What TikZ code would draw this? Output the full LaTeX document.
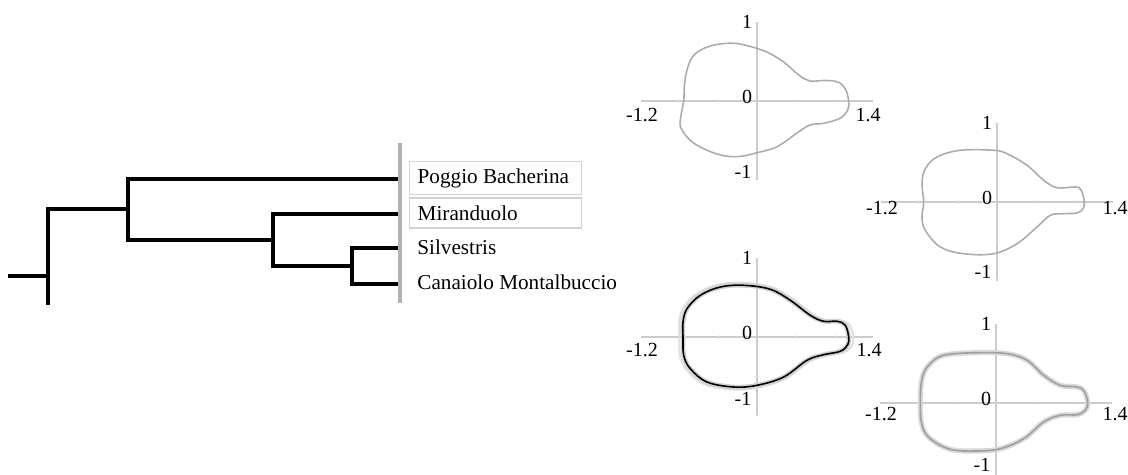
\documentclass[tikz,border=0pt]{standalone}
\usepackage{fontspec}
\setmainfont{Liberation Serif}
\newcommand{\branchWidth}[0]{2pt}
% axes, ticks and labels of one outline plot; #1 = drop of side labels, #2 = x of right label, #3 = y of -1
\newcommand{\seedAxes}[3]{%
  \draw[axis] (-116,0) -- (116,0);
  \draw[axis] (0,-79) -- (0,79);
  \foreach \t in {-78,-39,39,78} {
    \draw[tick] (\t,-2) -- (\t,2);
    \draw[tick] (-2,\t) -- (2,\t);
  }
  \node[num] (one) at (-10,-79) {1};
  \node[num] (zero) at (-10,-4) {0};
  \node[num] (minusone) at (-14,#3) {-1};
  \node[num] (left) at (-115,#1) {-1.2};
  \node[num] (right) at (#2,#1) {1.4};
}

\begin{document}
\begin{tikzpicture}[x=0.5pt, y=-0.5pt,
  branch/.style={line width=\branchWidth, line cap=rect},
  leafname/.style={anchor=west, inner xsep=4pt, minimum height=15pt,
    font=\fontsize{10.6}{12}\selectfont},
  boxed/.style={draw=gray!35, line width=0.7pt, text width=78pt, align=flush left},
  axis/.style={gray!40, line width=0.6pt},
  tick/.style={gray!25, line width=0.5pt},
  num/.style={font=\fontsize{10}{12}\selectfont, inner sep=0pt},
  seed/.style={gray!65, line width=0.8pt}]
  \useasboundingbox (0,0) rectangle (1128,475);

  % dendrogram
  \coordinate (r) at (10,276);
  \coordinate (n0) at (48,276);
  \coordinate (n1) at (128,209);
  \coordinate (n2) at (273,240);
  \coordinate (n3) at (352,266);
  \coordinate (bartop) at (400,143);
  \coordinate (barbot) at (400,303);
  \coordinate (pb) at (399,179);
  \coordinate (mi) at (399,214);
  \coordinate (si) at (399,248);
  \coordinate (ca) at (399,284);
  \draw[branch] (r) -- (n0);
  \draw[branch] (n0) |- (n1);
  \draw[branch] (n0) -- (n0 |- barbot);
  \draw[branch] (n1) |- (pb);
  \draw[branch] (n1) |- (n2);
  \draw[branch] (n2) |- (mi);
  \draw[branch] (n2) |- (n3);
  \draw[branch] (n3) |- (si);
  \draw[branch] (n3) |- (ca);
  \draw[gray!60, line width=2pt] (bartop) -- (barbot);

  \node[leafname, boxed] (lbPB) at (409,178) {Poggio Bacherina};
  \node[leafname, boxed] (lbMI) at (409,213) {Miranduolo};
  \node[leafname] (lbSI) at (409,247) {Silvestris};
  \node[leafname] (lbCA) at (409,282) {Canaiolo Montalbuccio};

  % outlines
  \begin{scope}[shift={(757,101)}, name prefix=A-]
    \seedAxes{14}{111}{71}
    \draw[seed] plot[smooth cycle, tension=0.6] coordinates {(91.7,0) (88,-12.7) (80,-19.3) (66,-20.5) (53,-20)
      (41.7,-26) (26.7,-39) (10,-49) (0,-52.7) (-23,-57.7) (-46.7,-55) (-63,-46) (-70,-31) (-72.7,-14)
      (-73.3,0) (-76.7,19) (-75,29) (-63,42.3) (-40,53) (-20,55.7) (0,51.7) (20,45.7) (40,32) (53,24)
      (66.7,22.3) (83,17.3) (90.7,9)};
  \end{scope}
  \begin{scope}[shift={(997,202)}, name prefix=B-]
    \seedAxes{6}{118}{70}
    \draw[seed] plot[smooth cycle, tension=0.6] coordinates {(87.3,0) (84,-12.3) (78,-15) (60,-14.3) (46.7,-21.7)
      (30,-36.7) (10,-48.3) (-3.3,-51.7) (-36.7,-51.7) (-60,-45) (-71.7,-33.3) (-75,-18.3) (-73.3,0)
      (-75,15) (-71.7,28.3) (-56.7,45) (-33.3,51.7) (-3.3,51.7) (20,41.7) (40,25) (53.3,13.3)
      (66.7,11.7) (80,11) (86,6.7)};
  \end{scope}
  \begin{scope}[shift={(757,337)}, name prefix=C-]
    \seedAxes{13}{112}{62}
    \foreach \s/\c/\w in {1.05/gray!25/1pt, 1/gray!35/2.4pt, 1/black/0.8pt}
      \draw[\c, line width=\w, scale=\s] plot[smooth cycle, tension=0.6] coordinates {(91.7,0) (88.3,-11.7)
        (80,-15.7) (66.7,-15.7) (53.3,-21.7) (33.3,-36.7) (13.3,-47.7) (-13.3,-51.7) (-36.7,-50)
        (-56.7,-41.7) (-70,-28.3) (-74,-15) (-74,0) (-73.3,18.3) (-66.7,31.7) (-50,45) (-23.3,50)
        (0,48.3) (26.7,40) (50,23.3) (66.7,17.7) (83.3,14.3) (90.7,7.7)};
  \end{scope}
  \begin{scope}[shift={(996,403)}, name prefix=D-]
    \seedAxes{11}{119}{62}
    \foreach \c/\w in {gray!30/2.6pt, gray!75/0.8pt}
      \draw[\c, line width=\w] plot[smooth cycle, tension=0.6] coordinates {(91.7,0) (88.3,-11.7) (81,-16)
        (64.3,-17.7) (47.7,-27.7) (31,-42.7) (11,-49.3) (-19,-50.3) (-52.3,-47.7) (-67.3,-37.7)
        (-74,-24.3) (-75.7,0) (-74,22.3) (-65.7,35.7) (-45.7,46.3) (-19,48) (4.3,45.7) (27.7,35.7)
        (47.7,19) (64.3,12.3) (81,11.7) (89.3,7.3)};
  \end{scope}
\end{tikzpicture}
\end{document}
